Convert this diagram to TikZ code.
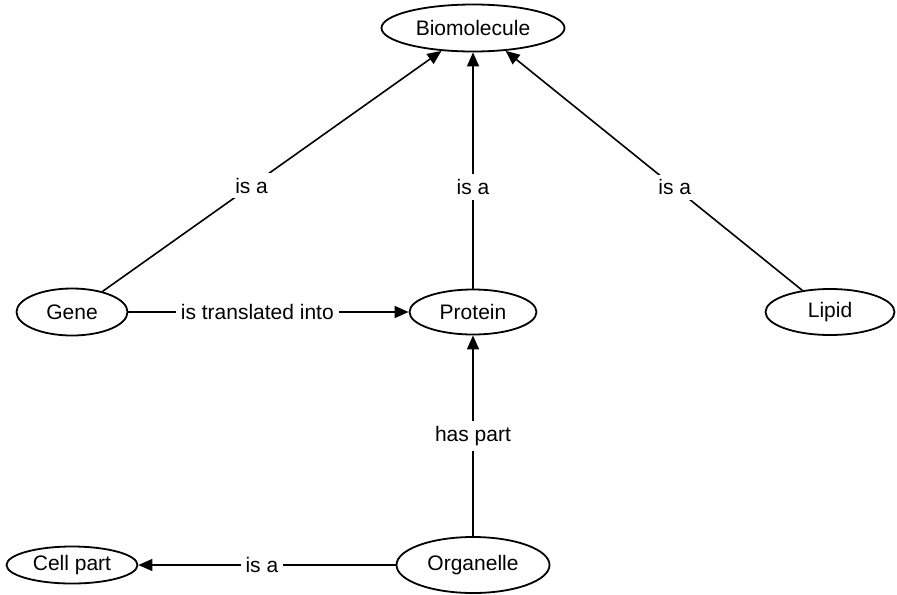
\documentclass[tikz,border=0pt]{standalone}
\usepackage{fontspec}
\setmainfont{Liberation Sans}
\usetikzlibrary{shapes.geometric,arrows.meta}
\begin{document}
\begin{tikzpicture}[x=0.5pt,y=-0.5pt,
  concept/.style={draw,ellipse,line width=0.9pt,inner sep=0pt},
  rel/.style={fill=white,inner sep=2.5pt},
  >={Triangle[length=7pt,width=6pt]},line width=0.8pt,
  font=\fontsize{10.5}{12}\selectfont]
\useasboundingbox (0,0) rectangle (897,594);
\node[concept,minimum width=91.5pt,minimum height=23.5pt] (bio) at (473,28){Biomolecule};
\node[concept,minimum width=55.5pt,minimum height=23.5pt] (gene) at (72,312){Gene};
\node[concept,minimum width=63.5pt,minimum height=22.5pt] (protein) at (473,312){Protein};
\node[concept,minimum width=64.5pt,minimum height=23pt] (lipid) at (830,312){Lipid};
\node[concept,minimum width=76.5pt,minimum height=28pt] (organelle) at (473,565){Organelle};
\node[concept,minimum width=65.5pt,minimum height=18.5pt] (cellpart) at (72,565){Cell part};
\draw[->](gene.34)--node[rel,pos=0.44]{is a}(bio.-144);
\draw[->](protein)--node[rel,pos=0.43]{is a}(bio);
\draw[->](lipid.142)--node[rel,pos=0.43]{is a}(bio.-35);
\draw[->](gene)--node[rel,pos=0.46]{is translated into}(protein);
\draw[->](organelle)--node[rel]{has part}(protein);
\draw[->](organelle)--node[rel,pos=0.52]{is a}(cellpart);
\end{tikzpicture}
\end{document}
